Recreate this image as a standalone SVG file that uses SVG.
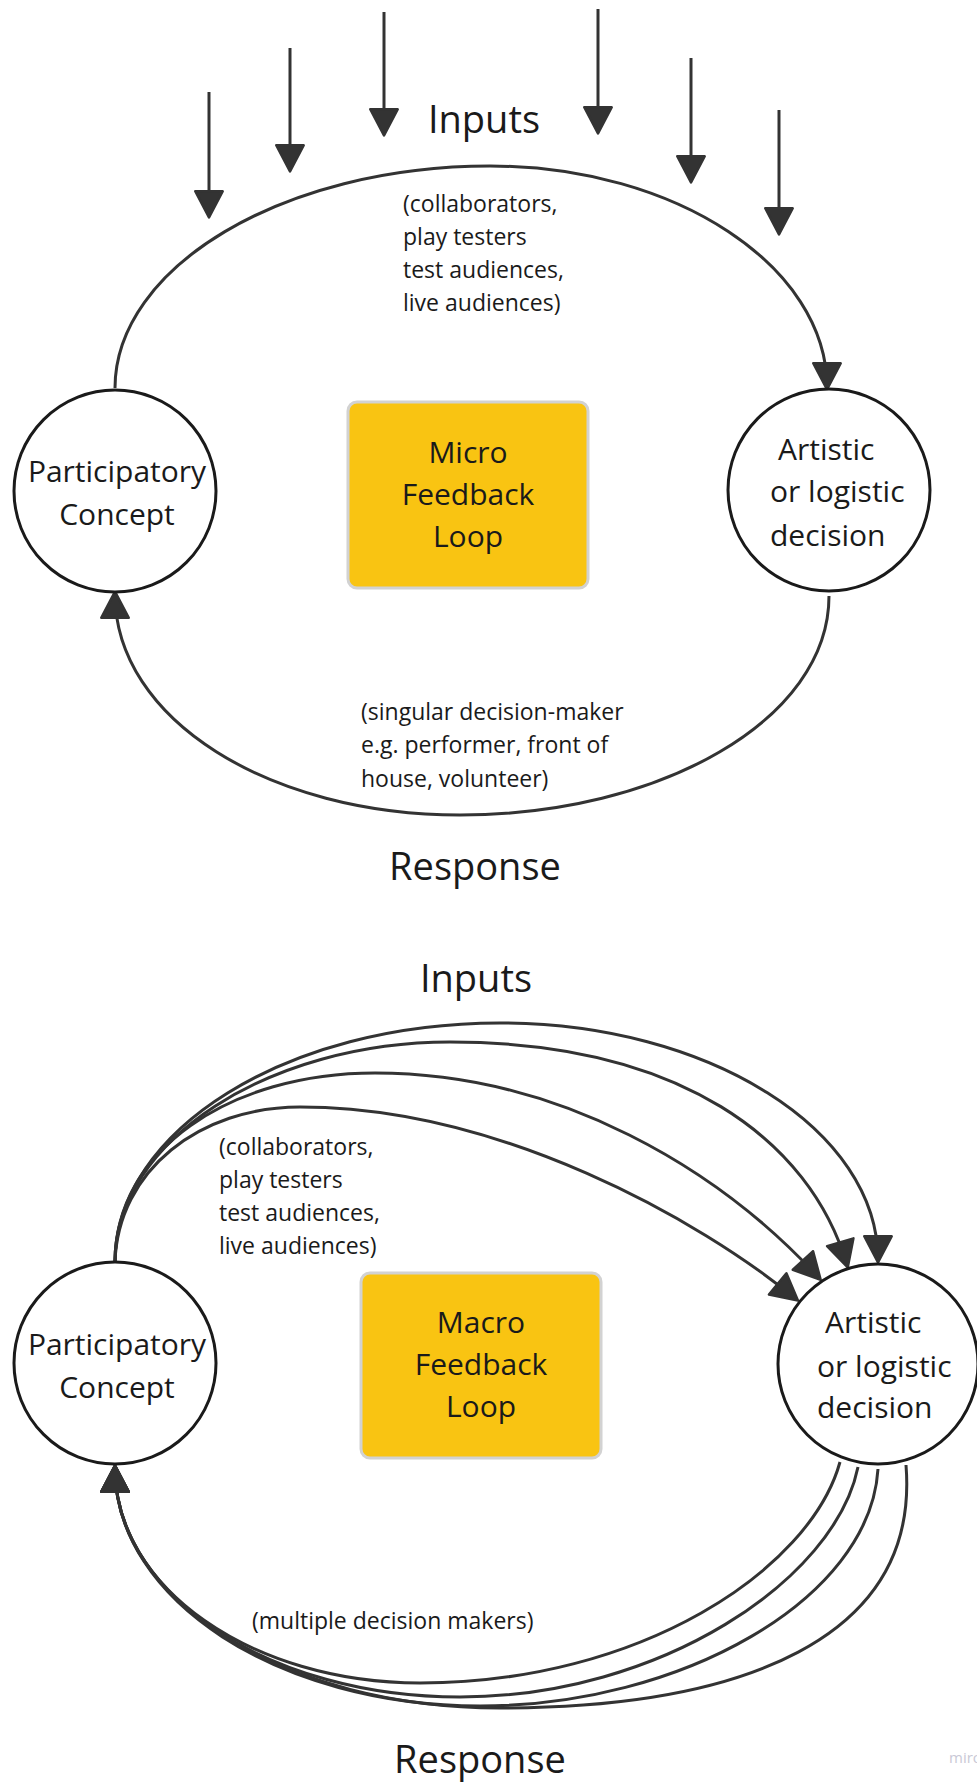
<svg xmlns="http://www.w3.org/2000/svg" width="977" height="1785" viewBox="0 0 977 1785">
<style>
.t{font-family:"Open Sans","Liberation Sans",sans-serif;fill:#1a1a1a}
.big{font-size:38px;text-anchor:middle}
.node{font-size:30px}
.c{text-anchor:middle}
.small{font-size:23px}
.circ{fill:#fff;stroke:#1a1a1a;stroke-width:3}
.box{fill:#F9C412;stroke:#d2d2d2;stroke-width:3}
.ln{fill:none;stroke:#333;stroke-width:3}
.wm{font-family:"Open Sans","Liberation Sans",sans-serif;font-size:15px;fill:#c9c9d6}
</style>
<defs>
<marker id="ah" markerUnits="userSpaceOnUse" markerWidth="40" markerHeight="40" viewBox="-24 -16 32 32" refX="0" refY="0" orient="auto">
<path d="M2,0 L-19,-11 L-19,11 Z" fill="#333" stroke="#333" stroke-width="2" stroke-linejoin="round"/>
</marker>
</defs>

<g id="connectors">
<!-- top section input arrows -->
<line class="ln" x1="209" y1="92" x2="209" y2="215" marker-end="url(#ah)"/>
<line class="ln" x1="290" y1="48" x2="290" y2="169" marker-end="url(#ah)"/>
<line class="ln" x1="384" y1="12" x2="384" y2="133" marker-end="url(#ah)"/>
<line class="ln" x1="598" y1="9" x2="598" y2="131" marker-end="url(#ah)"/>
<line class="ln" x1="691" y1="58" x2="691" y2="180" marker-end="url(#ah)"/>
<line class="ln" x1="779" y1="110" x2="779" y2="232" marker-end="url(#ah)"/>
<!-- top section loop -->
<path class="ln" d="M115,388 C115,267 283,166 490,166 C676,166 827,267 827,387" marker-end="url(#ah)"/>
<path class="ln" d="M829,596 C829,720 660,815 460,815 C270,815 115,720 115,594" marker-end="url(#ah)"/>
<!-- bottom section input arcs -->
<path class="ln" d="M115,1262 C115,1130 287,1023 500,1023 C709,1023 878,1130 878,1260" marker-end="url(#ah)"/>
<path class="ln" d="M115,1262 C115,1140 270,1042 450,1042 C680,1042 810,1140 847,1265" marker-end="url(#ah)"/>
<path class="ln" d="M115,1262 C115,1150 230,1073 375,1073 C560,1073 720,1170 819,1278" marker-end="url(#ah)"/>
<path class="ln" d="M115,1262 C118,1170 200,1107 300,1107 C500,1107 700,1220 796,1299" marker-end="url(#ah)"/>
<!-- bottom section return arcs -->
<path class="ln" d="M840,1462 C810,1570 640,1683 420,1683 C252,1683 115,1588 115,1468" marker-end="url(#ah)"/>
<path class="ln" d="M858,1467 C835,1580 660,1697 460,1697 C270,1697 115,1596 115,1468" marker-end="url(#ah)"/>
<path class="ln" d="M878,1469 C870,1600 680,1706 480,1706 C280,1706 115,1601 115,1468" marker-end="url(#ah)"/>
<path class="ln" d="M906,1465 C920,1640 740,1708 500,1708 C287,1708 115,1602 115,1468" marker-end="url(#ah)"/>
</g>

<g id="labels">
<text class="t big" x="484" y="133">Inputs</text>
<text class="t small" x="403" y="212">(collaborators,</text>
<text class="t small" x="403" y="245">play testers</text>
<text class="t small" x="403" y="278">test audiences,</text>
<text class="t small" x="403" y="311">live audiences)</text>
<text class="t small" x="361" y="720">(singular decision-maker</text>
<text class="t small" x="361" y="753">e.g. performer, front of</text>
<text class="t small" x="361" y="787">house, volunteer)</text>
<text class="t big" x="475" y="880">Response</text>
<text class="t big" x="476" y="992">Inputs</text>
<text class="t small" x="219" y="1155">(collaborators,</text>
<text class="t small" x="219" y="1188">play testers</text>
<text class="t small" x="219" y="1221">test audiences,</text>
<text class="t small" x="219" y="1254">live audiences)</text>
<text class="t small" x="252" y="1629">(multiple decision makers)</text>
<text class="t big" x="480" y="1773">Response</text>
<text class="wm" x="949" y="1763">miro</text>
</g>

<g id="node-participatory-1">
<circle class="circ" cx="115" cy="491" r="101"/>
<text class="t node c" x="117" y="482">Participatory</text>
<text class="t node c" x="117" y="525">Concept</text>
</g>
<g id="node-micro">
<rect class="box" x="348" y="402" width="240" height="186" rx="9"/>
<text class="t node c" x="468" y="463">Micro</text>
<text class="t node c" x="468" y="505">Feedback</text>
<text class="t node c" x="468" y="547">Loop</text>
</g>
<g id="node-decision-1">
<circle class="circ" cx="829" cy="490" r="101"/>
<text class="t node" x="778" y="460">Artistic</text>
<text class="t node" x="770" y="502">or logistic</text>
<text class="t node" x="770" y="546">decision</text>
</g>

<g id="node-participatory-2">
<circle class="circ" cx="115" cy="1363" r="101"/>
<text class="t node c" x="117" y="1355">Participatory</text>
<text class="t node c" x="117" y="1398">Concept</text>
</g>
<g id="node-macro">
<rect class="box" x="361" y="1273" width="240" height="185" rx="9"/>
<text class="t node c" x="481" y="1333">Macro</text>
<text class="t node c" x="481" y="1375">Feedback</text>
<text class="t node c" x="481" y="1417">Loop</text>
</g>
<g id="node-decision-2">
<circle class="circ" cx="878" cy="1364" r="100"/>
<text class="t node" x="825" y="1333">Artistic</text>
<text class="t node" x="817" y="1377">or logistic</text>
<text class="t node" x="817" y="1418">decision</text>
</g>
</svg>
